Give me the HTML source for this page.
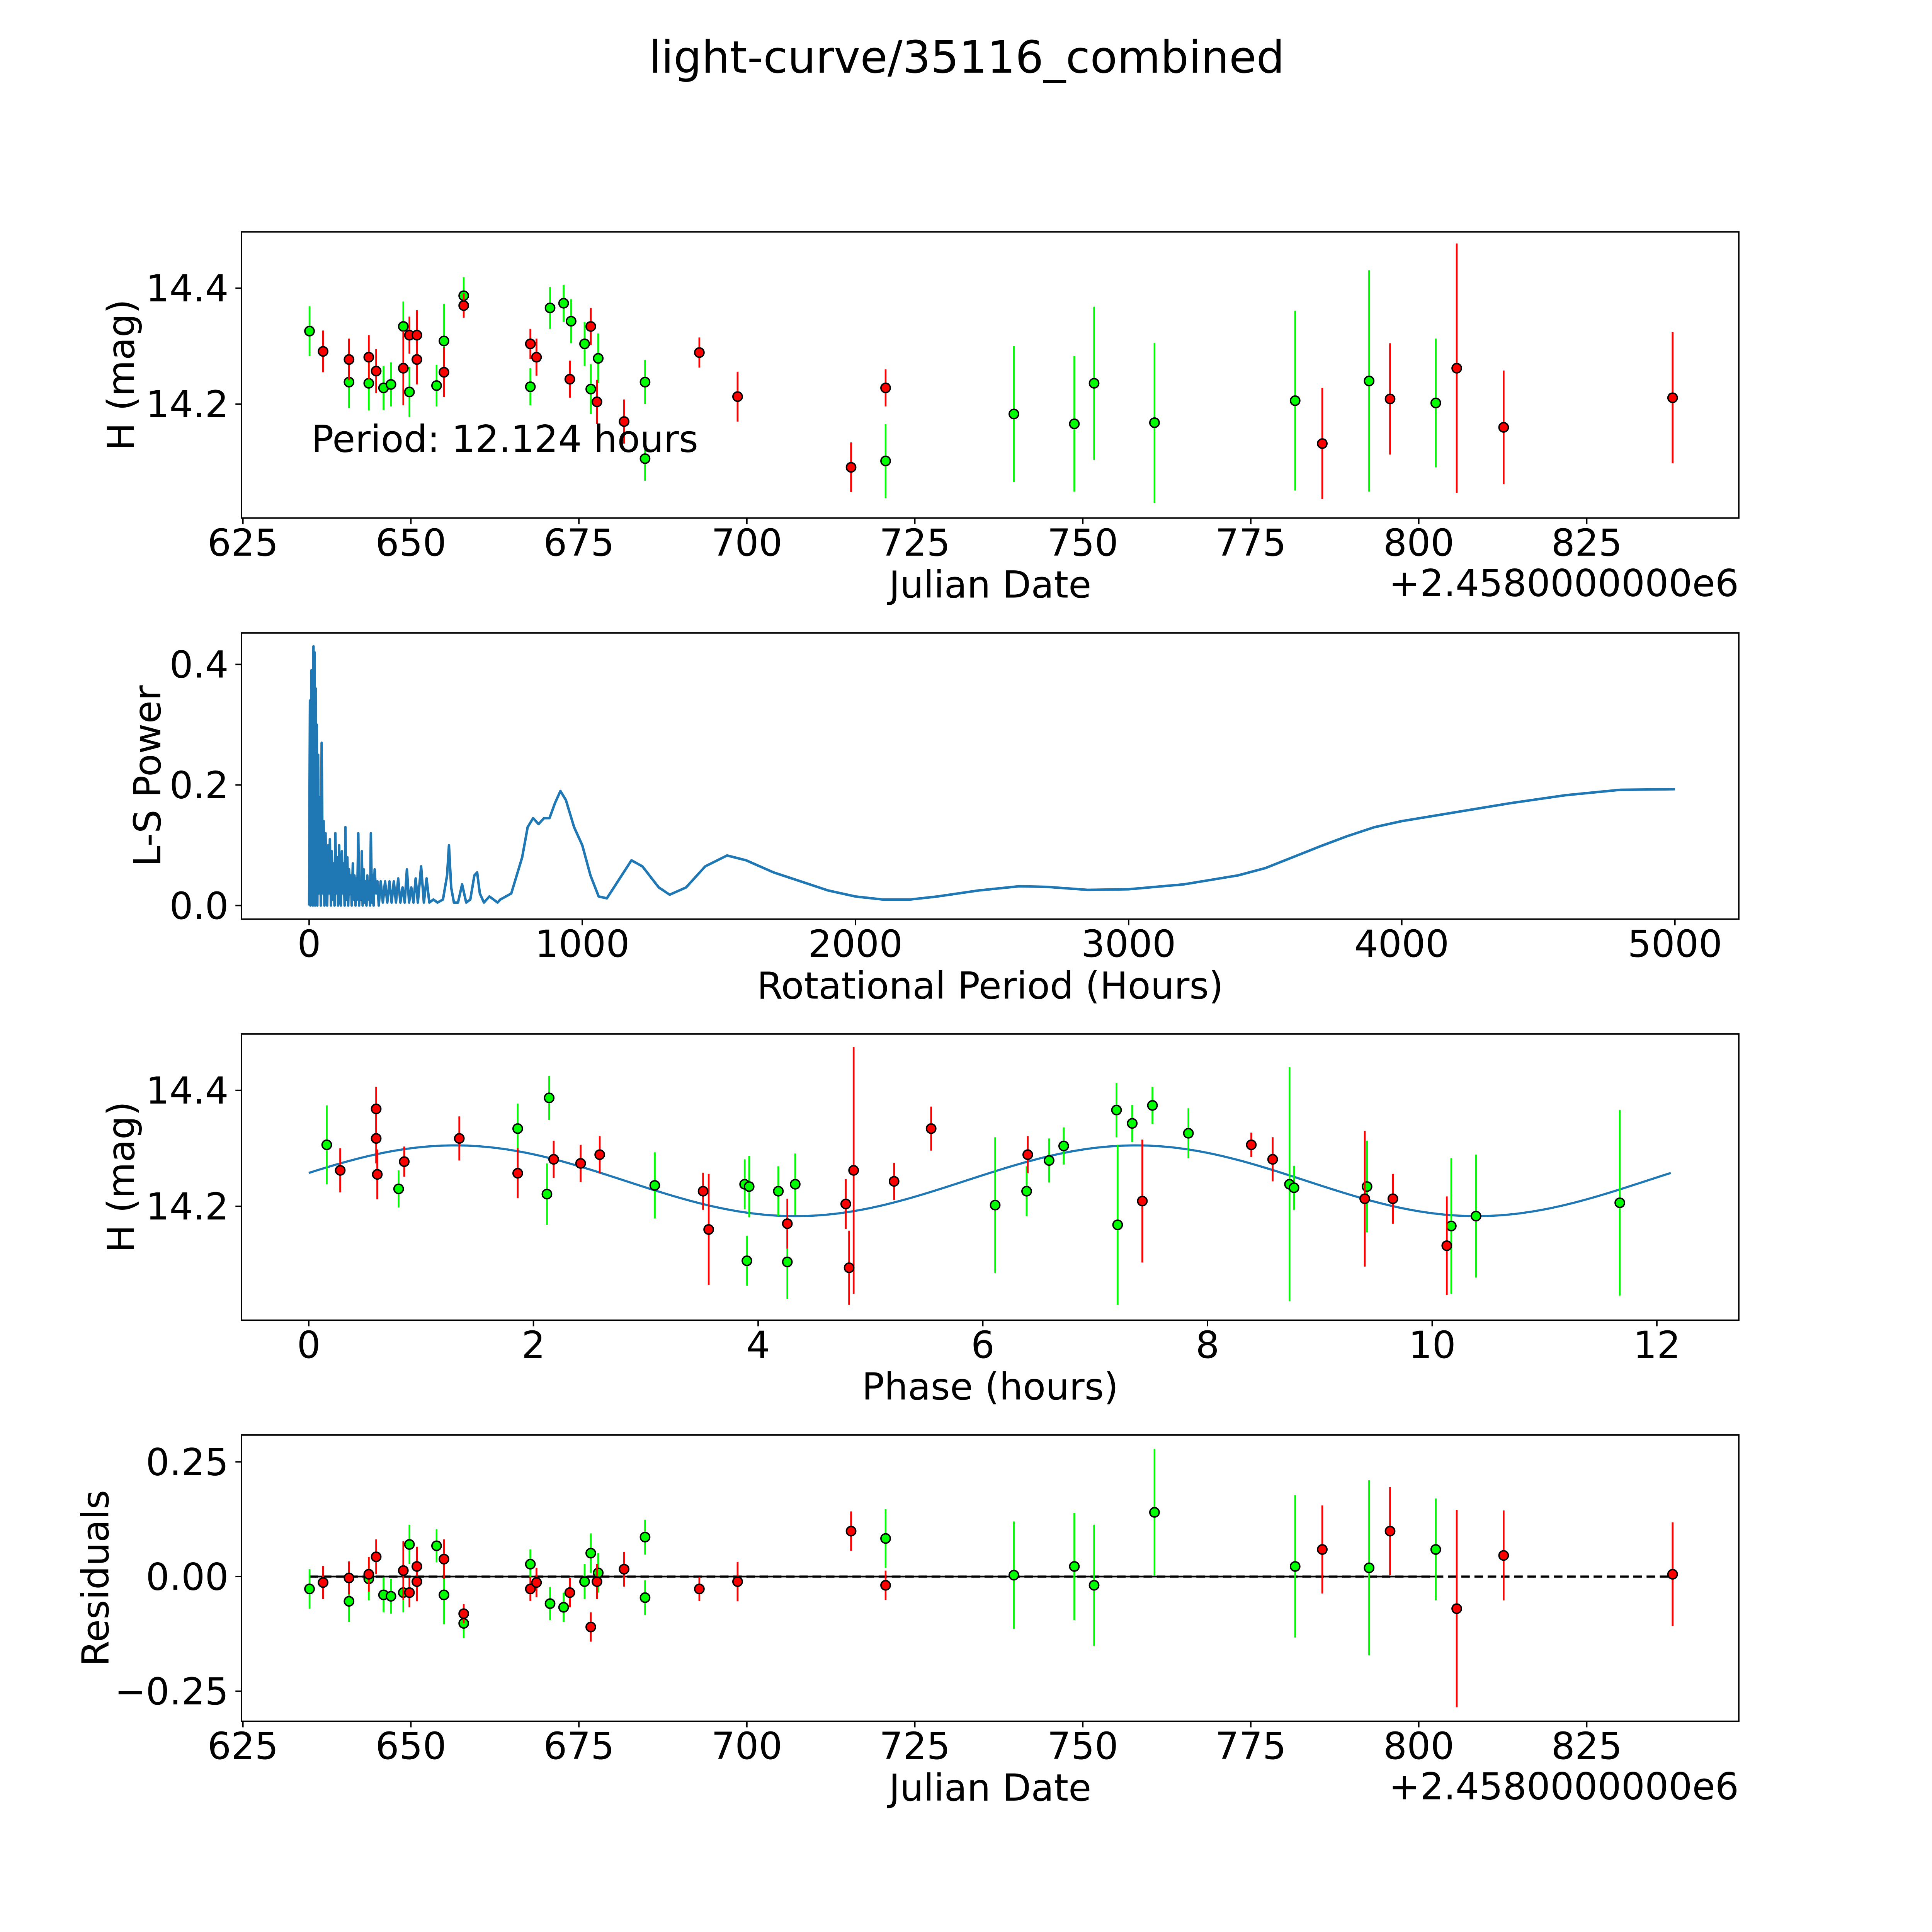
<!DOCTYPE html>
<html><head><meta charset="utf-8"><style>
html,body{margin:0;padding:0;background:#fff;overflow:hidden;width:100%;height:100%}
svg#fig{display:block;position:fixed;left:0;top:0;width:100vw;height:100vh}
text{font-family:"DejaVu Sans","Liberation Sans",sans-serif;fill:#000}
</style></head><body>
<svg id="fig" viewBox="0 0 5400 5400" preserveAspectRatio="none" xmlns="http://www.w3.org/2000/svg">
<rect width="5400" height="5400" fill="#fff"/>
<text x="2702" y="203" font-size="124" text-anchor="middle">light-curve/35116_combined</text>
<g id="root"></g>
</svg>
<script>
// ---------- data ----------
const greenDates = [634.91,640.79,643.73,645.93,647.03,648.87,649.78,653.82,654.92,657.86,667.78,670.71,672.73,673.84,675.85,676.77,677.88,684.85,684.85,720.65,739.74,748.74,751.68,760.67,781.60,792.61,802.53];
const greenMags = [14.326,14.238,14.236,14.228,14.234,14.334,14.221,14.232,14.309,14.387,14.230,14.366,14.374,14.343,14.304,14.226,14.279,14.238,14.106,14.102,14.183,14.166,14.236,14.168,14.206,14.240,14.202];
const greenErrs = [0.043,0.045,0.047,0.038,0.038,0.043,0.043,0.036,0.064,0.032,0.032,0.036,0.032,0.038,0.038,0.043,0.043,0.038,0.038,0.064,0.117,0.117,0.132,0.138,0.155,0.191,0.111];
const redDates = [636.93,640.79,643.73,644.83,648.87,649.78,650.89,650.89,654.92,657.86,667.78,668.69,673.65,676.77,677.69,681.73,692.93,698.62,715.51,720.65,785.64,795.73,805.65,812.63,837.78];
const redMags = [14.291,14.277,14.281,14.257,14.262,14.319,14.319,14.277,14.255,14.370,14.304,14.281,14.243,14.334,14.204,14.170,14.289,14.213,14.091,14.228,14.132,14.209,14.262,14.160,14.211];
const redErrs = [0.036,0.036,0.038,0.038,0.064,0.032,0.043,0.043,0.043,0.021,0.026,0.032,0.032,0.032,0.038,0.038,0.026,0.043,0.043,0.032,0.096,0.096,0.215,0.098,0.113];
const redResid = [-0.013,-0.003,0.005,0.043,0.013,-0.035,0.022,-0.011,0.038,-0.081,-0.027,-0.013,-0.035,-0.110,-0.011,0.016,-0.027,-0.011,0.099,-0.019,0.059,0.099,-0.070,0.046,0.005];
const greenResidDates = [634.91,640.79,643.73,645.93,647.03,648.87,649.78,653.82,654.92,657.86,667.78,670.71,672.73,675.85,676.77,677.88,684.85,684.85,720.65,739.74,748.74,751.68,760.67,781.60,792.61,802.53];
const greenResidVals = [-0.027,-0.054,-0.005,-0.040,-0.043,-0.035,0.070,0.067,-0.040,-0.102,0.027,-0.059,-0.067,-0.011,0.051,0.008,0.086,-0.046,0.083,0.003,0.022,-0.019,0.140,0.022,0.019,0.059];
const greenResidErrs = [0.043,0.045,0.047,0.038,0.038,0.043,0.043,0.036,0.064,0.032,0.032,0.036,0.032,0.038,0.043,0.043,0.038,0.038,0.064,0.117,0.117,0.132,0.138,0.155,0.191,0.111];

const greenPhase = [0.16,0.80,1.86,2.12,2.14,3.08,3.88,3.90,3.92,4.18,4.26,4.33,6.11,6.39,6.59,6.72,7.19,7.20,7.33,7.51,7.83,8.73,8.77,9.42,10.17,10.39,11.67];
const greenPhaseMags = [14.306,14.230,14.334,14.221,14.387,14.236,14.238,14.106,14.234,14.226,14.104,14.238,14.202,14.226,14.279,14.304,14.366,14.168,14.343,14.374,14.326,14.238,14.232,14.234,14.166,14.183,14.206];
const greenPhaseErrs = [0.068,0.032,0.043,0.053,0.038,0.057,0.043,0.043,0.053,0.043,0.064,0.053,0.117,0.043,0.038,0.032,0.047,0.138,0.032,0.032,0.043,0.202,0.038,0.079,0.117,0.106,0.160];
const redPhase = [0.28,0.60,0.60,0.61,0.85,1.34,1.86,2.18,2.42,2.59,3.51,3.56,4.26,4.78,4.81,4.85,5.21,5.54,6.40,7.42,8.39,8.58,9.40,9.65,10.13];
const redPhaseMags = [14.262,14.368,14.317,14.255,14.277,14.317,14.257,14.281,14.274,14.289,14.226,14.160,14.170,14.204,14.094,14.262,14.243,14.334,14.289,14.209,14.306,14.281,14.213,14.213,14.132];
const redPhaseErrs = [0.038,0.038,0.043,0.043,0.026,0.038,0.043,0.032,0.032,0.032,0.032,0.096,0.043,0.043,0.064,0.213,0.032,0.038,0.032,0.106,0.021,0.038,0.117,0.043,0.085];
// model fit: mean, amplitude, phase of peak (h), period (h)
const modelParams = [14.244, 0.061, 1.30, 12.124];

const spikePeriods = [0,3,5,8,10,12,14,16,18,20, 22,24,26,28,30,33,36,40,43,46, 50,53,56,60,63,66,70,73,76,80, 83,86,90,93,96,100,103,106,110,113, 116,120,123,126,130,133,136,140,143,146, 150,153,156,160,163,166,170,173,176,180, 183,186,190,193,196,200,203,206,210,213, 216,220,223,226,230,233,236,240,245,250, 255,262,270,278,286,294,302,310,318,326, 334,342,350,358,366,374,382,390,398,410, 420,430,440,455,470,490,505,512,520,530, 545,560,575,590,605,615,625,640,660,690];
const spikePower = [0,0.34,0,0.39,0.02,0.36,0,0.43,0.05,0.42, 0,0.36,0.03,0.30,0,0.25,0.02,0.18,0,0.27, 0.02,0.14,0,0.12,0.03,0,0.10,0.02,0.11,0, 0.09,0.01,0.07,0,0.12,0.02,0.08,0,0.10,0.01, 0,0.09,0.02,0.07,0,0.13,0.01,0.08,0,0.06, 0.02,0.05,0,0.07,0.01,0.05,0,0.045,0.01,0.12, 0,0.04,0.01,0.09,0,0.06,0.005,0.04,0,0.05, 0.01,0.04,0,0.12,0.005,0.05,0,0.06,0.02,0.04, 0,0.04,0.005,0.04,0.005,0.04,0.005,0.04,0.005,0.045, 0.005,0.03,0.005,0.06,0.005,0.03,0.005,0.045,0.005,0.065, 0.005,0.045,0.005,0.01,0.005,0.01,0.05,0.10,0.03,0.005, 0.005,0.035,0.005,0.01,0.05,0.055,0.02,0.005,0.015,0.005];
const smoothPeriods = [700,740,780,800,820,840,860,880,900,920, 940,970,1000,1030,1060,1090,1130,1180,1220,1280, 1320,1380,1450,1530,1600,1700,1800,1900,2000,2100, 2200,2300,2450,2600,2700,2850,3000,3200,3400,3500, 3600,3700,3800,3900,4000,4200,4400,4600,4800,5000];
const smoothPower = [0.01,0.02,0.08,0.13,0.145,0.135,0.145,0.145,0.17,0.19, 0.175,0.13,0.10,0.05,0.015,0.012,0.04,0.075,0.065,0.03, 0.018,0.03,0.065,0.083,0.075,0.055,0.04,0.025,0.015,0.01, 0.01,0.015,0.025,0.032,0.031,0.026,0.027,0.035,0.05,0.062, 0.08,0.098,0.115,0.13,0.14,0.155,0.17,0.183,0.192,0.193];

const dateTicks = [625,650,675,700,725,750,775,800,825];
const magTicks = [14.2,14.4];
const lsXTicks = [0,1000,2000,3000,4000,5000];
const lsYTicks = [0.0,0.2,0.4];
const phaseTicks = [0,2,4,6,8,10,12];
const residTicks = [-0.25,0.00,0.25];

// ---------- axes ----------
const NS='http://www.w3.org/2000/svg';
const root=document.getElementById('root');
const L=675,R=4860;
const tops=[648,1769,2890,4011],H=800;
const xDate=d=>679+(d-625)*18.78;
const yMag=(k)=>m=>tops[k]+481.6-(m-14.2)*1620.5;
const xLS=p=>864+p*0.7635;
const yLS=v=>2531-v*1685;
const xPh=p=>863+p*314;
const yRes=r=>4406.5-r*1282;

function el(tag,attrs,parent){const e=document.createElementNS(NS,tag);for(const k in attrs)e.setAttribute(k,attrs[k]);(parent||root).appendChild(e);return e;}
function txt(s,attrs,parent){const e=el('text',attrs,parent);e.textContent=s;return e;}

function axes(k,name,xt,xf,xfmt,yt,yf,yfmt,xlabel,ylabel,ylx,offset){
  const g=el('g',{});
  
  
  const T=tops[k],B=T+H;
  xt.forEach(v=>{const x=xf(v);
    const t=el('line',{x1:x,x2:x,y1:B,y2:B+17,stroke:'#000','stroke-width':4},g);
    
    
    const l=txt(xfmt(v),{x:x,y:B+105,'font-size':104,'text-anchor':'middle'},g);
    
    
  });
  yt.forEach(v=>{const y=yf(v);
    const t=el('line',{x1:L-17,x2:L,y1:y,y2:y,stroke:'#000','stroke-width':4},g);
    
    
    const l=txt(yfmt(v),{x:L-36,y:y+37,'font-size':104,'text-anchor':'end'},g);
    
    
  });
  const xl=txt(xlabel,{x:(L+R)/2,y:B+222,'font-size':104,'text-anchor':'middle'},g);
  
  
  const yl=txt(ylabel,{x:0,y:0,'font-size':104,'text-anchor':'middle',transform:`translate(${ylx},${T+H/2}) rotate(-90)`},g);
  
  
  if(offset){const o=txt(offset,{x:R,y:B+218,'font-size':104,'text-anchor':'end'},g);
    
    }
  const plot=el('g',{},g);
  
  
  return {g,plot,T,B};
}
function frame(ax){const r=el('rect',{x:L,y:ax.T,width:R-L,height:H,fill:'none',stroke:'#000','stroke-width':4},ax.g);
  
  }

function errPoints(parent,xs,ys,es,xf,yf,yscale,color,name){
  for(let i=0;i<xs.length;i++){
    const x=xf(xs[i]),y=yf(ys[i]),e=es[i]*yscale;
    const l=el('line',{x1:x,x2:x,y1:y-e,y2:y+e,stroke:color,'stroke-width':5},parent);
    
    
  }
  for(let i=0;i<xs.length;i++){
    const c=el('circle',{cx:xf(xs[i]),cy:yf(ys[i]),r:13,fill:color,stroke:'#000','stroke-width':4},parent);
    
    
  }
}
const f1=v=>v.toFixed(1), f0=v=>String(v), f2=v=>(v<0?'\u2212':'')+Math.abs(v).toFixed(2);

// panel 1
const a1=axes(0,'time-series-axes',dateTicks,xDate,f0,magTicks,yMag(0),f1,'Julian Date','H (mag)',375,'+2.4580000000e6');
errPoints(a1.plot,greenDates,greenMags,greenErrs,xDate,yMag(0),1620.5,'#00ff00','green-band');
errPoints(a1.plot,redDates,redMags,redErrs,xDate,yMag(0),1620.5,'#ff0000','red-band');
const pt=txt('Period: 12.124 hours',{x:870,y:1263,'font-size':104},a1.g);


frame(a1);

// panel 2
const a2=axes(1,'periodogram-axes',lsXTicks,xLS,f0,lsYTicks,yLS,f1,'Rotational Period (Hours)','L-S Power',448,null);
const lsP=spikePeriods.concat(smoothPeriods), lsV=spikePower.concat(smoothPower);
const pts=lsP.map((p,i)=>xLS(p).toFixed(1)+','+yLS(lsV[i]).toFixed(1)).join(' ');
const pl=el('polyline',{points:pts,fill:'none',stroke:'#1f77b4','stroke-width':7,'stroke-linejoin':'round'},a2.plot);


frame(a2);

// panel 3
const a3=axes(2,'phase-fold-axes',phaseTicks,xPh,f0,magTicks,yMag(2),f1,'Phase (hours)','H (mag)',375,null);
{const [mean,amp,pk,per]=modelParams;const ys=yMag(2);let s=[];
 for(let i=0;i<=300;i++){const p=per*i/300;s.push(xPh(p).toFixed(1)+','+ys(mean+amp*Math.cos(2*Math.PI*(p-pk)/(per/2))).toFixed(1));}
 const m=el('polyline',{points:s.join(' '),fill:'none',stroke:'#1f77b4','stroke-width':6},a3.plot);
 
 }
errPoints(a3.plot,greenPhase,greenPhaseMags,greenPhaseErrs,xPh,yMag(2),1620.5,'#00ff00','green-phase');
errPoints(a3.plot,redPhase,redPhaseMags,redPhaseErrs,xPh,yMag(2),1620.5,'#ff0000','red-phase');
frame(a3);

// panel 4
const a4=axes(3,'residuals-axes',dateTicks,xDate,f0,residTicks,yRes,f2,'Julian Date','Residuals',303,'+2.4580000000e6');
{const all=greenDates.concat(redDates);const mn=Math.min(...all),mx=Math.max(...all),gmx=Math.max(...greenDates);
 const d=el('line',{x1:xDate(mn),x2:xDate(mx),y1:yRes(0),y2:yRes(0),stroke:'#000','stroke-width':6,'stroke-dasharray':'24 13'},a4.plot);
 
 
 const s=el('line',{x1:xDate(mn),x2:xDate(gmx),y1:yRes(0),y2:yRes(0),stroke:'#000','stroke-width':5},a4.plot);
 
 }
errPoints(a4.plot,greenResidDates,greenResidVals,greenResidErrs,xDate,yRes,1282,'#00ff00','green-residual');
errPoints(a4.plot,redDates,redResid,redErrs,xDate,yRes,1282,'#ff0000','red-residual');
frame(a4);
</script>
</body></html>
